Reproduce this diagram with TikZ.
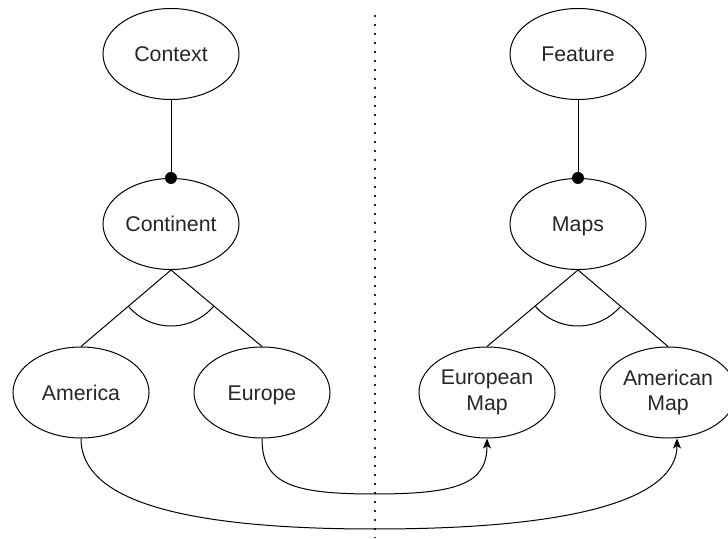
\documentclass[tikz,border=0pt]{standalone}
\usepackage{fontspec}
\setmainfont{Liberation Sans}
\usetikzlibrary{arrows.meta,calc,angles,shapes.geometric}

\tikzset{
  concept/.style={ellipse, draw=black, line width=1pt, minimum width=136pt,
    minimum height=91pt, inner sep=0pt, align=center, text=black!85,
    font=\fontsize{21.3}{25.6}\selectfont},
  oneline/.style={concept, text height=15.3pt, text depth=0pt},
  link/.style={draw=black, line width=1pt},
  flow/.style={link, -{Stealth[length=10pt,width=8pt,inset=2.5pt]}},
  divider/.style={draw=black!85, line width=2.2pt, dash pattern=on 2.2pt off 6.8pt},
  knob/.style={fill=black, draw=none},
}

\begin{document}
\begin{tikzpicture}[x=1pt, y=1pt]
  \useasboundingbox (0,0) rectangle (728,538);

  % dotted separator between the two trees
  \coordinate (divTop) at (375,523);
  \coordinate (divBot) at (375,0);
  \draw[divider] (divTop) -- (divBot);

  % left tree
  \node[oneline] (context)   at (171,484)   {Context};
  \node[oneline] (continent) at (171,314)   {Continent};
  \node[oneline] (america)   at (81,145.5)  {America};
  \node[oneline] (europe)    at (262,145.5) {Europe};

  % right tree
  \node[oneline] (feature) at (578,484)   {Feature};
  \node[oneline] (maps)    at (578,314)   {Maps};
  \node[concept] (euMap)   at (487,145.5) {European\\Map};
  \node[concept] (amMap)   at (668,145.5) {American\\Map};

  % parent links ending in a filled dot
  \draw[link] (context.south) -- (continent.north);
  \fill[knob] (continent.north) circle (6pt);
  \draw[link] (feature.south) -- (maps.north);
  \fill[knob] (maps.north) circle (6pt);

  % decompositions with their grouping arc
  \coordinate (cApex) at (continent.south);
  \coordinate (cLeft) at (america.north);
  \coordinate (cRight) at (europe.north);
  \draw[link] (cLeft) -- (cApex) -- (cRight);
  \pic[draw=black, line width=1pt, angle radius=56pt] {angle = cLeft--cApex--cRight};

  \coordinate (mApex) at (maps.south);
  \coordinate (mLeft) at (euMap.north);
  \coordinate (mRight) at (amMap.north);
  \draw[link] (mLeft) -- (mApex) -- (mRight);
  \pic[draw=black, line width=1pt, angle radius=56pt] {angle = mLeft--mApex--mRight};

  % mappings across the divider
  \coordinate (innerLow) at (374.5,44);
  \coordinate (outerLow) at (374.5,9);
  \coordinate (amEntry) at ([xshift=9pt]amMap.south);

  \draw[flow] (europe.south) .. controls +(0,-45) and +(-83.5,0) .. (innerLow)
              .. controls +(83.5,0) and +(0,-45) .. (euMap.south);
  \draw[flow] (america.south) .. controls +(0,-50) and +(-228.5,0) .. (outerLow)
              .. controls +(235,0) and +(0,-50) .. (amEntry);
\end{tikzpicture}
\end{document}
